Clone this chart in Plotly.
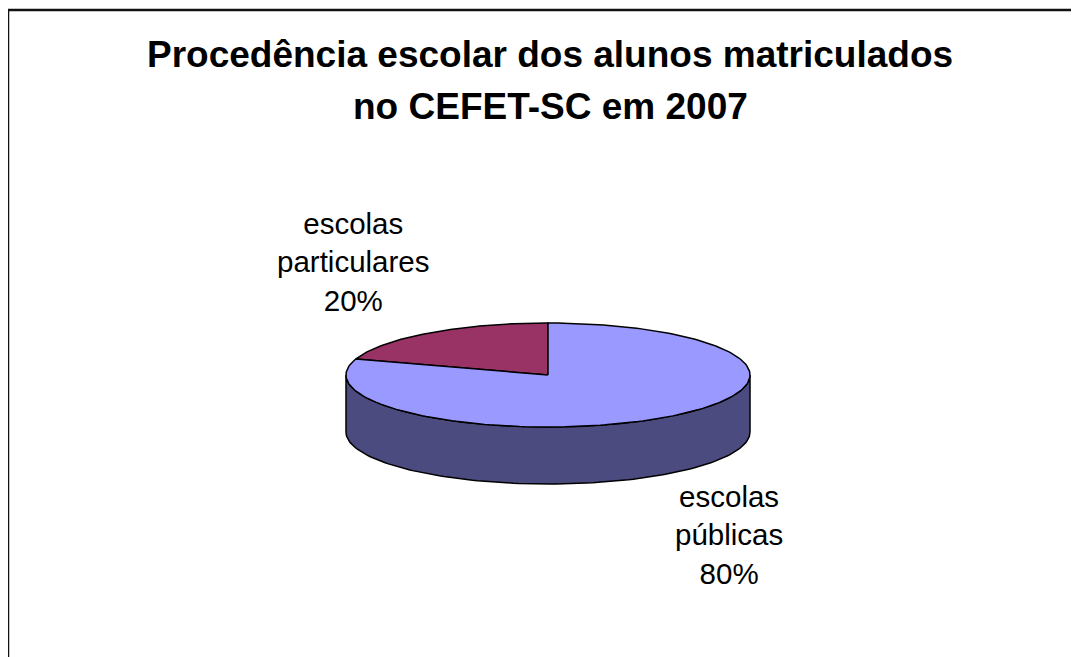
import numpy as np
import plotly.graph_objects as go

# data
labels = ['escolas particulares', 'escolas públicas']
label_text = ['escolas<br>particulares<br>20%', 'escolas<br>públicas<br>80%']
values = [20, 80]
top_colors = ['#993366', '#9999FF']
side_colors = ['#4D1A33', '#4B4B7F']
title_lines = ['Procedência escolar dos alunos matriculados', 'no CEFET-SC em 2007']

# page is 1079x657, the browser puts 8px of body margin around the div
PAGE_W, PAGE_H = 1079, 657
OFF = 8
W, H = PAGE_W - OFF, PAGE_H - OFF


def px(x):
	return (x - OFF) / W


def py(y):
	return 1 - (y - OFF) / H


# pie geometry in page pixels (center, radii, thickness)
cx, cy = 548, 375
rx, ry, depth = 202, 52, 57
scale = rx  # 1 axis unit = rx pixels

# axis ranges so that 1 unit == scale px in both directions, pie center at (0,0)
xr = [-(cx - OFF) / scale, (OFF + W - cx) / scale]
yr = [-(OFF + H - cy) / scale, (cy - OFF) / scale]
tilt = ry / rx
thick = depth / scale

font = 'Arial, Liberation Sans, sans-serif'

# slice angles: first slice starts at 12 o'clock and runs counterclockwise
fracs = np.array(values, dtype=float) / sum(values)
starts = 90 + 360 * np.concatenate([[0], np.cumsum(fracs)[:-1]])
ends = starts + 360 * fracs


def ell(a, drop=0.0):
	a = np.radians(a)
	return np.cos(a), tilt * np.sin(a) - drop


traces = []

# sides (front half only: 180..360 deg)
for i in range(len(values)):
	a0, a1 = starts[i], ends[i]
	segs = []
	for off in (0, 360):
		lo = max(a0, 180 + off)
		hi = min(a1, 360 + off)
		if hi > lo:
			segs.append((lo, hi))
	for lo, hi in segs:
		t = np.linspace(lo, hi, 120)
		x1, y1 = ell(t)
		x2, y2 = ell(t[::-1], thick)
		traces.append(go.Scatter(
			x=np.concatenate([x1, x2, x1[:1]]),
			y=np.concatenate([y1, y2, y1[:1]]),
			mode='lines', fill='toself', fillcolor=side_colors[i],
			line=dict(color='black', width=1.5), hoverinfo='skip', showlegend=False))

# top faces
for i in range(len(values)):
	t = np.linspace(starts[i], ends[i], 200)
	x, y = ell(t)
	traces.append(go.Scatter(
		x=np.concatenate([[0], x, [0]]),
		y=np.concatenate([[0], y, [0]]),
		mode='lines', fill='toself', fillcolor=top_colors[i],
		line=dict(color='black', width=1.5), hoverinfo='skip', showlegend=False))

fig = go.Figure(data=traces)

annotations = [
	dict(text='<b>%s</b>' % title_lines[0], x=px(550), y=py(54)),
	dict(text='<b>%s</b>' % title_lines[1], x=px(550), y=py(106)),
]
for a in annotations:
	a.update(xref='paper', yref='paper', showarrow=False, xanchor='center', yanchor='middle',
		font=dict(family=font, size=37, color='black'))

label_pos = [(px(353), py(262)), (px(729), py(535))]
for txt, (lx, ly) in zip(label_text, label_pos):
	annotations.append(dict(text=txt, x=lx, y=ly, xref='paper', yref='paper', showarrow=False,
		xanchor='center', yanchor='middle', align='center',
		font=dict(family=font, size=29.5, color='black')))

# chart frame: only left and top edges are inside the window
bx, by = px(8), py(10)
frame = 'M %f,%f L %f,%f L %f,%f' % (bx, -0.05, bx, by, 1.05, by)

fig.update_layout(
	width=W, height=H,
	margin=dict(l=0, r=0, t=0, b=0),
	paper_bgcolor='white', plot_bgcolor='white',
	xaxis=dict(range=xr, visible=False, fixedrange=True),
	yaxis=dict(range=yr, visible=False, fixedrange=True),
	annotations=annotations,
	shapes=[dict(type='path', xref='paper', yref='paper', path=frame,
		line=dict(color='#111111', width=2.5))],
)

fig.write_html('out.html')
